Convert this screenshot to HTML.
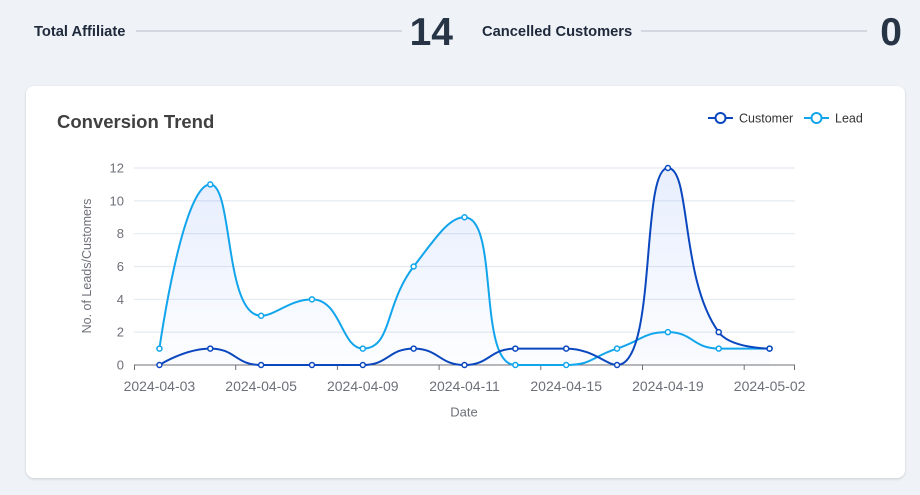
<!DOCTYPE html>
<html>
<head>
<meta charset="utf-8">
<style>
  html,body{margin:0;padding:0;}
  body{width:920px;height:495px;background:#eff3f7;position:relative;overflow:hidden;font-family:"Liberation Sans",sans-serif;}
  .card{position:absolute;left:26px;top:86px;width:879px;height:392px;background:#fff;border-radius:8px;box-shadow:0 1px 3px rgba(0,0,0,0.10),0 1px 2px rgba(0,0,0,0.06);}
  svg{position:absolute;left:0;top:0;}
  text{font-family:"Liberation Sans",sans-serif;}
</style>
</head>
<body>
<div class="card"></div>
<svg width="920" height="495" viewBox="0 0 920 495" xmlns="http://www.w3.org/2000/svg">
  <defs>
    <linearGradient id="gL" x1="0" y1="0" x2="0" y2="1">
      <stop offset="0" stop-color="rgb(37,99,235)" stop-opacity="0.11"/>
      <stop offset="1" stop-color="rgb(37,99,235)" stop-opacity="0.01"/>
    </linearGradient>
    <linearGradient id="gC" x1="0" y1="0" x2="0" y2="1">
      <stop offset="0" stop-color="rgb(37,99,235)" stop-opacity="0.11"/>
      <stop offset="1" stop-color="rgb(37,99,235)" stop-opacity="0.01"/>
    </linearGradient>
  </defs>

  <!-- Header -->
  <text x="34" y="36" font-size="14.7" font-weight="bold" fill="#1e293b">Total Affiliate</text>
  <line x1="136" y1="31" x2="402" y2="31" stroke="#d3d8e0" stroke-width="2"/>
  <text x="453" y="45" font-size="39" font-weight="bold" fill="#263445" text-anchor="end">14</text>

  <text x="482" y="36" font-size="14.7" font-weight="bold" fill="#1e293b">Cancelled Customers</text>
  <line x1="641" y1="31" x2="867" y2="31" stroke="#d3d8e0" stroke-width="2"/>
  <text x="902" y="45" font-size="39" font-weight="bold" fill="#263445" text-anchor="end">0</text>

  <!-- Card title -->
  <text x="57" y="128" font-size="18.5" font-weight="bold" fill="#404040">Conversion Trend</text>

  <!-- Legend -->
  <line x1="708" y1="118" x2="733" y2="118" stroke="#0b47bf" stroke-width="2"/>
  <circle cx="720.5" cy="118" r="5" fill="#fff" stroke="#0b47bf" stroke-width="2"/>
  <text x="739" y="122.5" font-size="12.5" fill="#333">Customer</text>
  <line x1="804" y1="118" x2="829" y2="118" stroke="#12a5ec" stroke-width="2"/>
  <circle cx="816.5" cy="118" r="5" fill="#fff" stroke="#12a5ec" stroke-width="2"/>
  <text x="835" y="122.5" font-size="12.5" fill="#333">Lead</text>

  <!-- Grid -->
  <g stroke="#e4e9f2" stroke-width="1.2">
    <line x1="134" y1="168" x2="795" y2="168"/>
    <line x1="134" y1="200.8" x2="795" y2="200.8"/>
    <line x1="134" y1="233.7" x2="795" y2="233.7"/>
    <line x1="134" y1="266.5" x2="795" y2="266.5"/>
    <line x1="134" y1="299.3" x2="795" y2="299.3"/>
    <line x1="134" y1="332.2" x2="795" y2="332.2"/>
  </g>

  <!-- Y labels -->
  <g font-size="13" fill="#6e7079" text-anchor="end">
    <text x="124" y="172.5">12</text>
    <text x="124" y="205.3">10</text>
    <text x="124" y="238.2">8</text>
    <text x="124" y="271">6</text>
    <text x="124" y="303.8">4</text>
    <text x="124" y="336.7">2</text>
    <text x="124" y="369.5">0</text>
  </g>
  <text transform="translate(91,266) rotate(-90)" font-size="12.5" fill="#6e7079" text-anchor="middle">No. of Leads/Customers</text>

  <!-- Areas and lines -->
  <path id="areaL" fill="url(#gL)" d=""/>
  <path id="areaC" fill="url(#gC)" d=""/>

  <!-- Axis -->
  <line x1="134" y1="365" x2="795" y2="365" stroke="#6e7079" stroke-width="1"/>
  <g stroke="#6e7079" stroke-width="1">
    <line x1="134.5" y1="365" x2="134.5" y2="370"/>
    <line x1="235.7" y1="365" x2="235.7" y2="370"/>
    <line x1="337.4" y1="365" x2="337.4" y2="370"/>
    <line x1="439.1" y1="365" x2="439.1" y2="370"/>
    <line x1="540.8" y1="365" x2="540.8" y2="370"/>
    <line x1="642.5" y1="365" x2="642.5" y2="370"/>
    <line x1="744.2" y1="365" x2="744.2" y2="370"/>
    <line x1="794.5" y1="365" x2="794.5" y2="370"/>
  </g>

  <path id="lineL" fill="none" stroke="#12a5ec" stroke-width="2" d=""/>
  <path id="lineC" fill="none" stroke="#0b47bf" stroke-width="2" d=""/>
  <g id="symL" fill="#fff" stroke="#12a5ec" stroke-width="1.5"></g>
  <g id="symC" fill="#fff" stroke="#0b47bf" stroke-width="1.5"></g>

  <!-- X labels -->
  <g font-size="14" fill="#6e7079" text-anchor="middle">
    <text x="159.4" y="391">2024-04-03</text>
    <text x="261.1" y="391">2024-04-05</text>
    <text x="362.8" y="391">2024-04-09</text>
    <text x="464.5" y="391">2024-04-11</text>
    <text x="566.2" y="391">2024-04-15</text>
    <text x="667.9" y="391">2024-04-19</text>
    <text x="769.6" y="391">2024-05-02</text>
  </g>
  <text x="464" y="416.5" font-size="13" fill="#6e7079" text-anchor="middle">Date</text>
</svg>
<script>
(function(){
  var x0=134, w=661/13, y0=365, k=197/12;
  var lead=[1,11,3,4,1,6,9,0,0,1,2,1,1];
  var cust=[0,1,0,0,0,1,0,1,1,0,12,2,1];
  function pts(a){return a.map(function(v,i){return [x0+w*(i+0.5), y0-v*k];});}
  function smoothPath(p,smooth){
    var d='M'+p[0][0].toFixed(2)+','+p[0][1].toFixed(2);
    var cpx0=p[0][0],cpy0=p[0][1],prevX=p[0][0],prevY=p[0][1],n=p.length;
    for(var i=1;i<n;i++){
      var x=p[i][0],y=p[i][1],cpx1,cpy1,ncx,ncy;
      if(i===n-1){cpx1=x;cpy1=y;}
      else{
        var nextX=p[i+1][0],nextY=p[i+1][1];
        var vx=nextX-prevX,vy=nextY-prevY;
        var dx0=x-prevX,dx1=nextX-x,dy0=y-prevY,dy1=nextY-y;
        var lp=Math.sqrt(dx0*dx0+dy0*dy0),ln=Math.sqrt(dx1*dx1+dy1*dy1);
        var r=ln/(ln+lp);
        ncx=x+vx*smooth*r;ncy=y+vy*smooth*r;
        ncx=Math.min(ncx,Math.max(nextX,x));ncy=Math.min(ncy,Math.max(nextY,y));
        ncx=Math.max(ncx,Math.min(nextX,x));ncy=Math.max(ncy,Math.min(nextY,y));
        vx=ncx-x;vy=ncy-y;
        cpx1=x-vx*lp/ln;cpy1=y-vy*lp/ln;
        cpx1=Math.min(cpx1,Math.max(prevX,x));cpy1=Math.min(cpy1,Math.max(prevY,y));
        cpx1=Math.max(cpx1,Math.min(prevX,x));cpy1=Math.max(cpy1,Math.min(prevY,y));
        vx=x-cpx1;vy=y-cpy1;
        ncx=x+vx*ln/lp;ncy=y+vy*ln/lp;
      }
      d+=' C'+cpx0.toFixed(2)+','+cpy0.toFixed(2)+' '+cpx1.toFixed(2)+','+cpy1.toFixed(2)+' '+x.toFixed(2)+','+y.toFixed(2);
      cpx0=ncx;cpy0=ncy;prevX=x;prevY=y;
    }
    return d;
  }
  function draw(a,lineId,areaId,symId){
    var p=pts(a),d=smoothPath(p,0.5);
    document.getElementById(lineId).setAttribute('d',d);
    document.getElementById(areaId).setAttribute('d',d+' L'+p[p.length-1][0].toFixed(2)+','+y0+' L'+p[0][0].toFixed(2)+','+y0+' Z');
    var g=document.getElementById(symId),ns='http://www.w3.org/2000/svg';
    p.forEach(function(q){var c=document.createElementNS(ns,'circle');c.setAttribute('cx',q[0]);c.setAttribute('cy',q[1]);c.setAttribute('r',2.5);g.appendChild(c);});
  }
  draw(lead,'lineL','areaL','symL');
  draw(cust,'lineC','areaC','symC');
})();
</script>
</body>
</html>
